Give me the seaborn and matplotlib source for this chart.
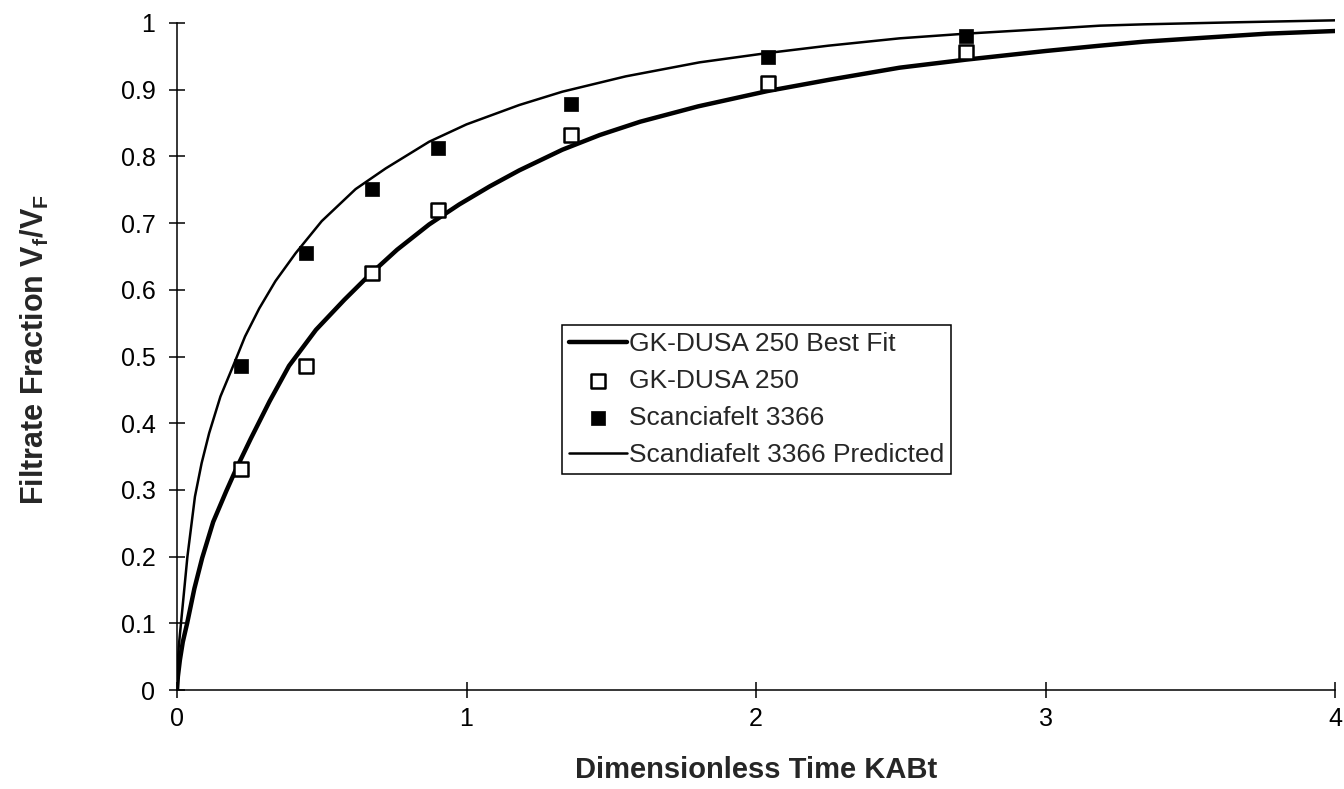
# filtrate fraction vs dimensionless time, fit / measured / predicted
import matplotlib
matplotlib.use("Agg")
import matplotlib.pyplot as plt
import seaborn as sns

# GK-DUSA 250 best fit curve
fit_x = [0, 0.003, 0.01, 0.02, 0.035, 0.06, 0.087, 0.125, 0.17, 0.205, 0.255,
         0.32, 0.387, 0.48, 0.578, 0.664, 0.76, 0.871, 0.975, 1.08, 1.182,
         1.331, 1.46, 1.6, 1.8, 2.04, 2.254, 2.496, 2.724, 3.0, 3.188, 3.34,
         3.55, 3.765, 4.0]
fit_y = [0, 0.02, 0.045, 0.072, 0.10, 0.152, 0.198, 0.252, 0.298, 0.332, 0.377,
         0.433, 0.486, 0.54, 0.585, 0.622, 0.66, 0.698, 0.728, 0.755, 0.779,
         0.81, 0.832, 0.852, 0.875, 0.898, 0.915, 0.933, 0.945, 0.958, 0.966,
         0.972, 0.978, 0.984, 0.988]

# Scandiafelt 3366 predicted curve
pred_x = [0, 0.002, 0.006, 0.016, 0.036, 0.062, 0.085, 0.111, 0.15, 0.195,
          0.235, 0.284, 0.34, 0.41, 0.5, 0.617, 0.721, 0.871, 1.0, 1.182, 1.331,
          1.55, 1.805, 2.04, 2.25, 2.496, 2.724, 3.0, 3.188, 3.34, 3.65, 4.0]
pred_y = [0, 0.035, 0.065, 0.11, 0.20, 0.29, 0.34, 0.385, 0.44, 0.487,
          0.53, 0.572, 0.613, 0.655, 0.703, 0.751, 0.782, 0.822, 0.848, 0.877,
          0.897, 0.92, 0.941, 0.955, 0.966, 0.977, 0.984, 0.991, 0.996, 0.998,
          1.001, 1.004]

# measured points
t_pts = [0.222, 0.447, 0.672, 0.902, 1.361, 2.04, 2.724]
gk_y = [0.331, 0.486, 0.625, 0.719, 0.832, 0.910, 0.957]
sc_y = [0.486, 0.655, 0.751, 0.813, 0.878, 0.949, 0.981]

labels = ["GK-DUSA 250 Best Fit", "GK-DUSA 250", "Scanciafelt 3366",
          "Scandiafelt 3366 Predicted"]
yticks = [0, 0.1, 0.2, 0.3, 0.4, 0.5, 0.6, 0.7, 0.8, 0.9, 1]
xticks = [0, 1, 2, 3, 4]


def main() -> None:
    sns.set_style("white")
    plt.rcParams["font.family"] = ["Liberation Sans", "DejaVu Sans"]
    plt.rcParams["mathtext.fontset"] = "custom"
    plt.rcParams["mathtext.bf"] = "Liberation Sans:bold"
    plt.rcParams["mathtext.rm"] = "Liberation Sans:bold"
    plt.rcParams["mathtext.default"] = "bf"

    fig = plt.figure(figsize=(13.44, 7.89), dpi=100)
    ytop = 1.02
    ax = fig.add_axes([177 / 1344, 99 / 789, 1158 / 1344, 667 * ytop / 789])

    sns.lineplot(x=fit_x, y=fit_y, ax=ax, color="black", linewidth=3.2,
                 label=labels[0], sort=False)
    sns.scatterplot(x=t_pts, y=gk_y, ax=ax, marker="s", s=100, color="white",
                    edgecolor="black", linewidth=1.8, label=labels[1], zorder=3)
    sns.scatterplot(x=t_pts, y=sc_y, ax=ax, marker="s", s=110, color="black",
                    edgecolor="black", linewidth=0.5, label=labels[2], zorder=3)
    sns.lineplot(x=pred_x, y=pred_y, ax=ax, color="black", linewidth=1.8,
                 label=labels[3], sort=False)

    ax.set_xlim(0, 4)
    ax.set_ylim(0, ytop)
    ax.set_xticks(xticks)
    ax.set_xticklabels([str(v) for v in xticks])
    ax.set_yticks(yticks)
    ax.set_yticklabels([f"{v:g}" for v in yticks])

    for s in ["top", "right"]:
        ax.spines[s].set_visible(False)
    for s in ["left", "bottom"]:
        ax.spines[s].set_color("black")
        ax.spines[s].set_linewidth(1.1)
    ax.spines["left"].set_bounds(0, 1)
    ax.tick_params(axis="both", which="major", bottom=True, left=True,
                   direction="inout", length=11, width=1.1,
                   color="black", labelsize=18, labelcolor="black")
    ax.tick_params(axis="y", pad=10)
    ax.tick_params(axis="x", pad=7)

    ax.set_xlabel("Dimensionless Time KABt", fontsize=21, fontweight="bold",
                  labelpad=18)
    ax.set_ylabel(r"Filtrate Fraction V$_{f}$/V$_{F}$", fontsize=22,
                  fontweight="bold", labelpad=50)

    leg = ax.legend(loc="upper left", bbox_to_anchor=(1.33, 0.547),
                    bbox_transform=ax.transData, fontsize=19, frameon=True,
                    fancybox=False, edgecolor="black", framealpha=1,
                    borderaxespad=0, borderpad=0.25, labelspacing=0.5,
                    handlelength=2.2, handletextpad=0.08)
    leg.get_frame().set_linewidth(1.1)

    fig.savefig("out.png", dpi=100)


if __name__ == "__main__":
    main()
